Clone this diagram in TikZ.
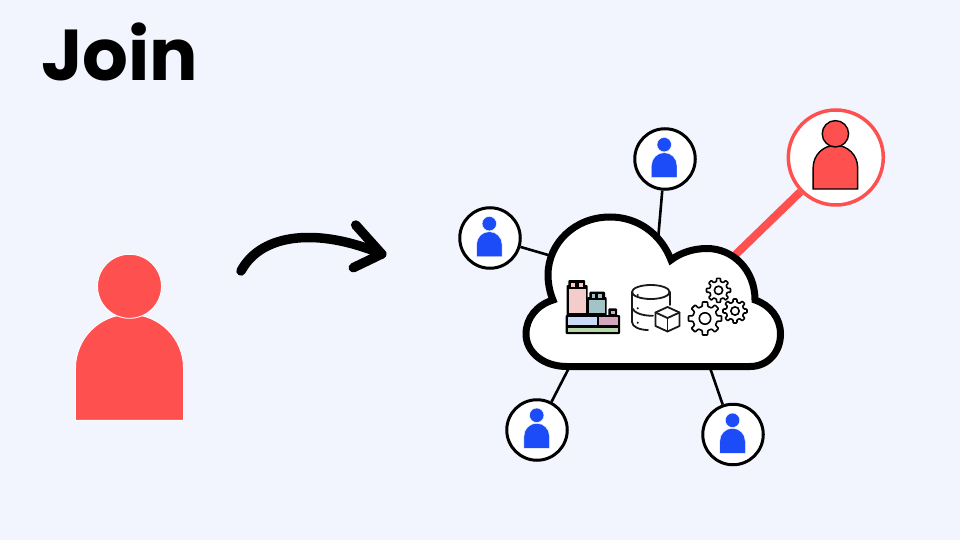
\documentclass[tikz,border=0pt]{standalone}
\usepackage{fontspec}
\newfontfamily\joinfont{Poppins}
\pgfdeclarelayer{canvas}
\pgfdeclarelayer{links}
\pgfsetlayers{canvas,links,main}
\definecolor{pagebg}{HTML}{F2F5FD}
\definecolor{redp}{HTML}{FF5050}
\definecolor{bluep}{HTML}{1C4CF8}
\definecolor{legopink}{HTML}{F4CCCC}
\definecolor{legoteal}{HTML}{A2C4C9}
\definecolor{legoblue}{HTML}{C9DAF8}
\definecolor{legomauve}{HTML}{D5A6BD}
\definecolor{legogreen}{HTML}{B6D7A8}
\tikzset{
  every picture/.append style={x=1pt,y=-1pt},
  person/.pic={
    \path[pic actions] (-54,0) -- (-54,-52) .. controls (-54,-82) and (-30,-106) .. (0,-106)
      .. controls (30,-106) and (54,-82) .. (54,-52) -- (54,0) -- cycle;
    \path[pic actions] (0,-134) circle[radius=32];
  },
  smallperson/.pic={
    \path[pic actions] (-54,0) -- (-54,-52) .. controls (-54,-82) and (-30,-106) .. (0,-106)
      .. controls (30,-106) and (54,-82) .. (54,-52) -- (54,0) -- cycle;
    \path[pic actions] (0,-140) circle[radius=30.5];
  },
  gearicon/.pic={
    \draw[line width=1.6pt,line join=round,rounded corners=.6pt] (-13:10) \foreach \a in {0,45,...,315} {
      -- (\a-13:10) -- (\a-9:13.5) -- (\a+9:13.5) -- (\a+13:10) } -- cycle;
    \draw[line width=1.6pt] (0,0) circle[radius=4.6];
  },
  bluecirc/.style={circle,draw=black,fill=white,line width=3pt,minimum size=60.5pt,inner sep=0pt},
  redcirc/.style={circle,draw=redp,fill=white,line width=3.5pt,minimum size=95pt,inner sep=0pt},
  link/.style={draw=black,line width=2.6pt},
  redlink/.style={draw=redp,line width=8pt},
  blueperson/.style={fill=bluep,draw=white,line width=.4pt,scale=.236},
  arrowline/.style={line width=9.5pt,line cap=round,line join=round},
  legoframe/.style={fill=black,rounded corners=1pt},
  dbline/.style={line width=1.8pt,line cap=round,line join=round,draw=black!90},
}
\begin{document}
\begin{tikzpicture}
\begin{pgfonlayer}{canvas}
  \fill[pagebg] (0,0) rectangle (960,540);
\end{pgfonlayer}
\useasboundingbox (0,0) rectangle (960,540);

\node[anchor=base west,inner sep=0pt,font=\joinfont\bfseries\fontsize{72}{72}\selectfont] (title) at (41,81) {Join};

% big person
\pic[fill=redp,draw=white,line width=.9pt] at (129.5,420.3) {person};

% arrow
\draw[arrowline] (241,271) .. controls (262,232) and (320,228) .. (381.7,254);
\draw[arrowline] (355.7,225) -- (381.7,254) -- (353.3,267.7);

% person circles
\node[bluecirc] (ptop) at (665,159) {};
\node[bluecirc] (pleft) at (490,238) {};
\node[bluecirc] (pbl) at (537,430) {};
\node[bluecirc] (pbr) at (733,434.5) {};
\node[redcirc] (pred) at (835.8,157.5) {};

% cloud anchors
\coordinate (ctop) at (658,240);
\coordinate (cleft) at (555,257);
\coordinate (cbl) at (572,362);
\coordinate (cbr) at (708,362);
\coordinate (cred) at (730,260);

\begin{pgfonlayer}{links}
  \draw[link] (ptop) -- (ctop);
  \draw[link] (pleft) -- (cleft);
  \draw[link] (pbl) -- (cbl);
  \draw[link] (pbr) -- (cbr);
  \draw[redlink] (pred) -- (cred);
\end{pgfonlayer}

\pic[blueperson] at (664.2,177.7) {smallperson};
\pic[blueperson] at (489.3,256.7) {smallperson};
\pic[blueperson] at (536.7,448.3) {smallperson};
\pic[blueperson] at (732.5,453.3) {smallperson};
\pic[fill=redp,draw=black,line width=1.4pt,scale=.412] at (835.4,189) {person};

% cloud
\draw[line width=7pt,fill=white,miter limit=4]
  (567,366.5) -- (750,366.5)
  .. controls (768,366.5) and (780.5,352) .. (780.5,334)
  .. controls (780.5,318) and (770,305) .. (755,300)
  .. controls (755,270) and (733,248.5) .. (707,248.5)
  .. controls (693,248.5) and (680,253) .. (671,260)
  .. controls (661,234) and (638,217) .. (610,217)
  .. controls (575,217) and (548,243) .. (548,275)
  .. controls (548,284) and (550,293) .. (553,300)
  .. controls (537,305) and (526,318) .. (526,334)
  .. controls (526,352) and (543,366.5) .. (567,366.5) -- cycle;

% lego icon
\fill[legoframe] (565.7,315) rectangle (620,334);
\fill[legoframe] (566.7,285) rectangle (587.5,316);
\fill[legoframe] (568.3,280) rectangle (585,286);
\fill[legoframe] (587,297) rectangle (606.7,316);
\fill[legoframe] (589.3,291.7) rectangle (605,298);
\fill[legoframe] (608.3,308.3) rectangle (617,316);
\fill[legogreen] (567.7,328) rectangle (618.3,332.3);
\fill[legoblue] (567.7,316.7) rectangle (596.7,325.3);
\fill[legomauve] (599,316.7) rectangle (617.7,325.3);
\fill[legopink] (568.5,288.5) rectangle (585.7,313.3);
\fill[legopink] (570.5,282.7) rectangle (575,286.7);
\fill[legopink] (578.5,282.7) rectangle (583,286.7);
\fill[legoteal] (589,299.5) rectangle (605,313.3);
\fill[legoteal] (591.7,294) rectangle (595,297.5);
\fill[legoteal] (598.3,294) rectangle (601.7,297.5);
\fill[legomauve] (610.7,310.7) rectangle (615,314);

% database icon
\draw[dbline] (650.8,292) ellipse[x radius=18.8,y radius=7];
\draw[dbline] (632,292) -- (632,322)
  .. controls (632,327) and (640,330) .. (648,330);
\draw[dbline] (669.6,292) -- (669.6,305);
\draw[dbline] (632,308) .. controls (634,313) and (643,316) .. (653,315.7);
\fill[black!90] (637.7,295) circle[radius=1.1];
\fill[black!90] (637.7,308.3) circle[radius=1.1];
\fill[black!90] (637.7,322.7) circle[radius=1.1];
\draw[dbline,fill=white] (667.5,307) -- (679.5,312.5) -- (679.5,326) -- (667.5,331.5) -- (655.5,326) -- (655.5,312.5) -- cycle;
\draw[dbline] (655.5,312.5) -- (667.5,318) -- (679.5,312.5);
\draw[dbline] (667.5,318) -- (667.5,331.5);

% gears
\pic[scale=1.24] at (705,318.5) {gearicon};
\pic[scale=.9] at (718.5,290.3) {gearicon};
\pic[scale=.9] at (735,311) {gearicon};
\end{tikzpicture}
\end{document}
